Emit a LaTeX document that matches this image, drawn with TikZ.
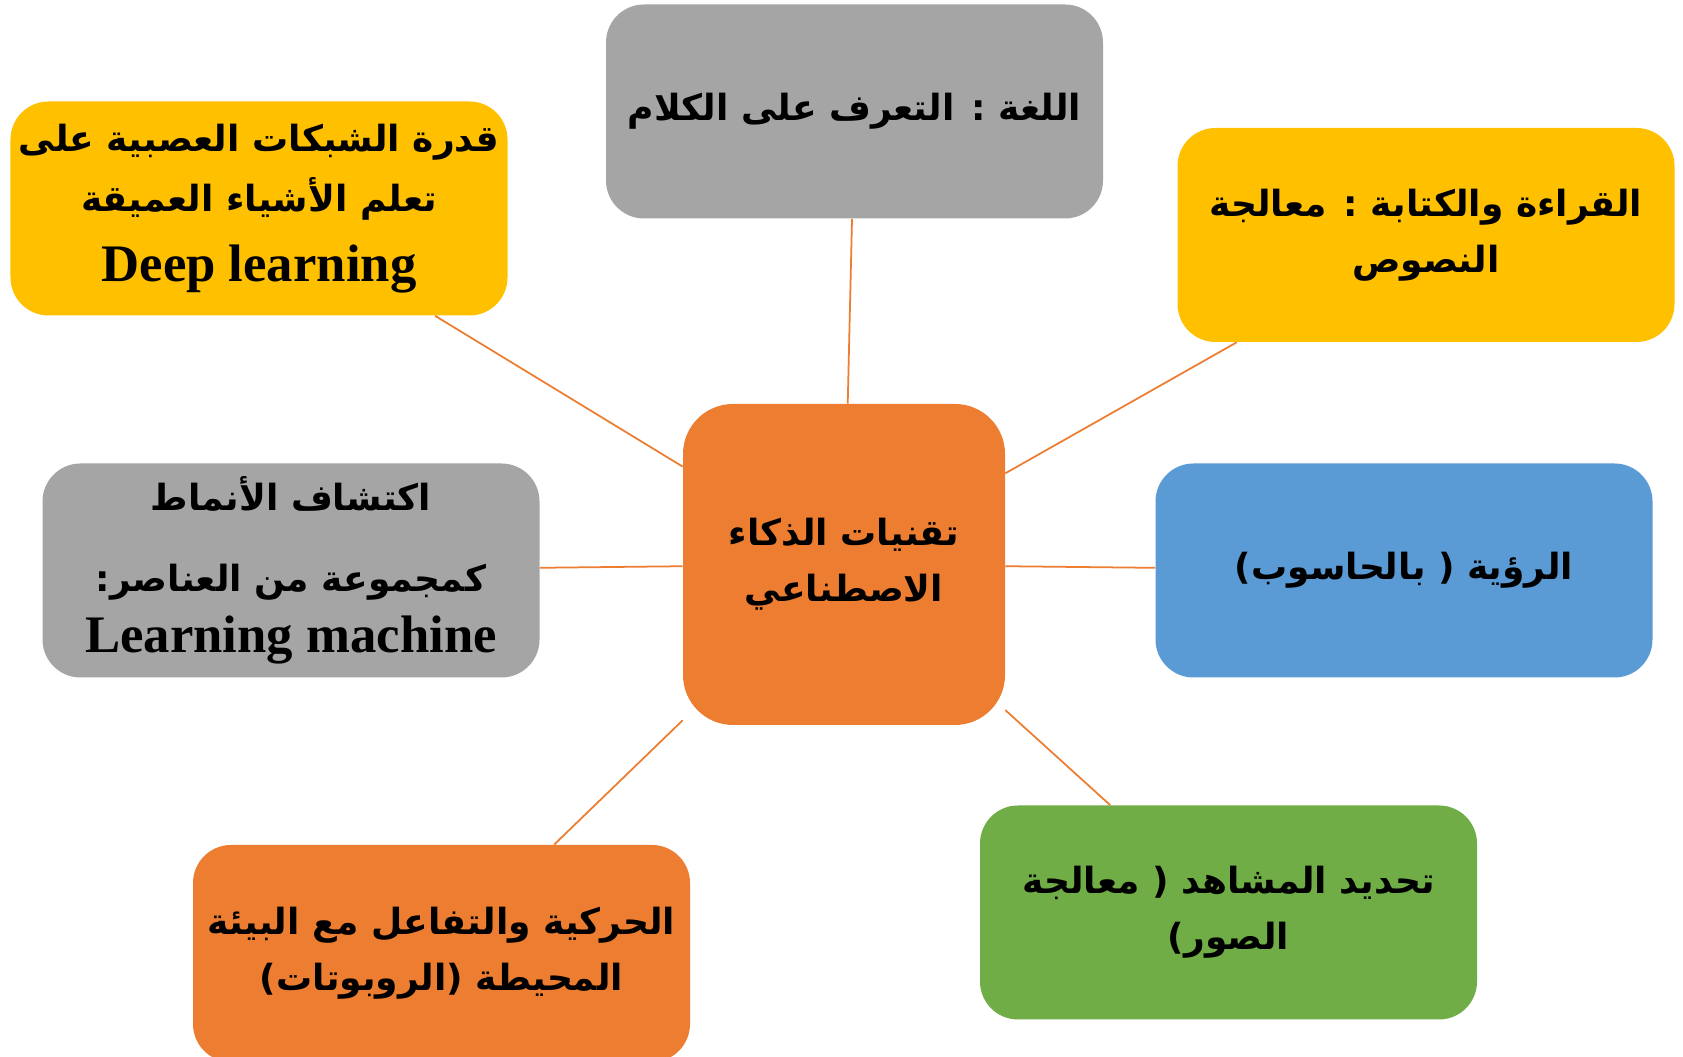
\documentclass[tikz,border=0pt]{standalone}
\usepackage{fontspec}
\setmainfont{Liberation Serif}
\newfontfamily\arabicfont[Script=Arabic]{DejaVu Sans}
\TeXXeTstate=1
\usetikzlibrary{positioning}

\definecolor{aiorange}{HTML}{ED7D31}
\definecolor{aiyellow}{HTML}{FFC000}
\definecolor{aigray}{HTML}{A5A5A5}
\definecolor{aiblue}{HTML}{5B9BD5}
\definecolor{aigreen}{HTML}{70AD47}

\newcommand{\artext}[1]{{\arabicfont\beginR #1\endR}}
\newcommand{\entext}[1]{{\fontsize{30}{36}\selectfont #1}}

\tikzset{
    idea/.style={rectangle, rounded corners=0.76cm, minimum width=9.94cm,
        minimum height=4.28cm, align=center, inner sep=2pt,
        font=\bfseries\fontsize{20.5}{32}\selectfont},
    core/.style={idea, minimum width=6.44cm, minimum height=6.42cm, rounded corners=1cm},
    link/.style={draw=aiorange, line width=1pt}
}

\begin{document}
\begin{tikzpicture}
    \clip (0,0) rectangle (33.66,21.14);
    \fill[white] (0,0) rectangle (33.66,21.14);

    % Centre
    \node[core, fill=aiorange] (ai) at (16.88, 9.85) {\artext{تقنيات الذكاء}\\\artext{الاصطناعي}};

    % Top row
    \node[idea, fill=aigray] (speech) at (17.09, 18.91) {\artext{اللغة : التعرف على الكلام}};
    \node[idea, fill=aiyellow] (deep) at (5.18, 16.97)
        {\artext{قدرة الشبكات العصبية على}\\[2pt]\artext{تعلم الأشياء العميقة}\\[8pt]\entext{Deep learning}};
    \node[idea, fill=aiyellow] (text) at (28.52, 16.44) {\artext{القراءة والكتابة : معالجة}\\\artext{النصوص}};

    % Middle row
    \node[idea, fill=aigray] (pattern) at (5.82, 9.73)
        {\artext{اكتشاف الأنماط}\\[14pt]\artext{كمجموعة من العناصر:}\\[3pt]\entext{Learning machine}};
    \node[idea, fill=aiblue] (vision) at (28.08, 9.73) {\artext{الرؤية ( بالحاسوب)}};

    % Bottom row
    \node[idea, fill=aiorange, minimum height=4.34cm] (robot) at (8.83, 2.07)
        {\artext{الحركية والتفاعل مع البيئة}\\\artext{المحيطة (الروبوتات)}};
    \node[idea, fill=aigreen] (scene) at (24.57, 2.89) {\artext{تحديد المشاهد ( معالجة}\\\artext{الصور)}};

    % Links
    \foreach \n in {speech, deep, text, pattern, vision, robot, scene}
        \draw[link] (ai) -- (\n);
\end{tikzpicture}
\end{document}
